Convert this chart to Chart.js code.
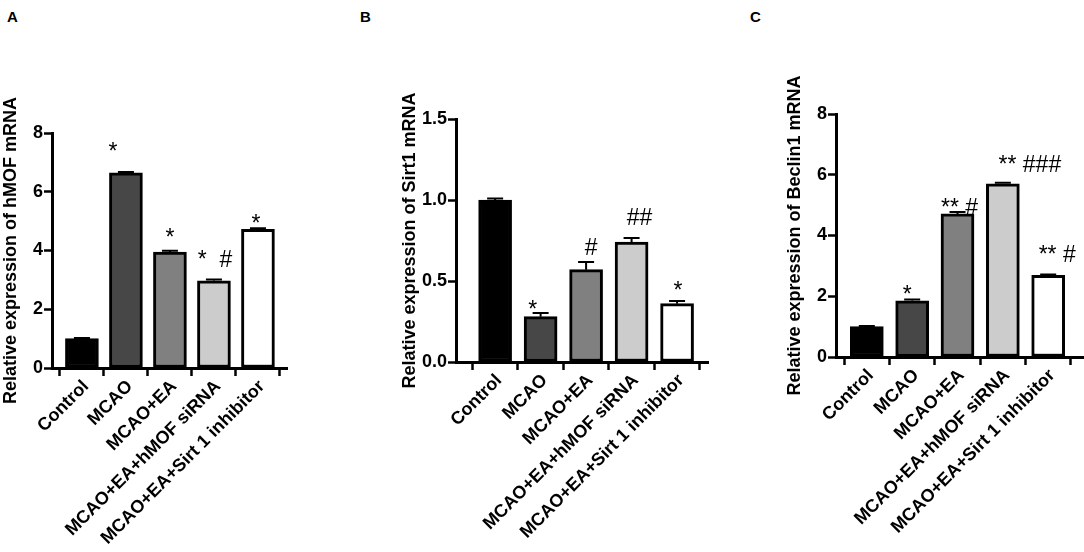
<!DOCTYPE html>
<html>
<head>
<meta charset="utf-8">
<script src="https://cdn.jsdelivr.net/npm/chart.js@4.4.1/dist/chart.umd.min.js"></script>
<style>
  body { margin: 0; background: #fff; }
  #wrap { position: relative; width: 1084px; height: 552px; overflow: hidden; font-family: "Liberation Sans", Arial, sans-serif; }
  .panel { position: absolute; top: 0; height: 552px; }
  .letter { position: absolute; top: 8px; font-weight: bold; font-size: 15px; color: #000; }
</style>
</head>
<body>
<div id="wrap">
  <div class="letter" style="left:7px">A</div>
  <div class="letter" style="left:360px">B</div>
  <div class="letter" style="left:750px">C</div>
  <div class="panel" style="left:0;width:360px"><canvas id="chartA" width="360" height="552"></canvas></div>
  <div class="panel" style="left:360px;width:360px"><canvas id="chartB" width="360" height="552"></canvas></div>
  <div class="panel" style="left:720px;width:364px"><canvas id="chartC" width="364" height="552"></canvas></div>
</div>
<script>
// groups on the x axis (same for all three panels)
const groups = ['Control', 'MCAO', 'MCAO+EA', 'MCAO+EA+hMOF siRNA', 'MCAO+EA+Sirt 1 inhibitor'];

// A - hMOF
const hmofValues = [1.0, 6.64, 3.95, 2.97, 4.72];
const hmofErrors = [0.02, 0.03, 0.04, 0.04, 0.04];
const hmofMarks = ['', '*', '*', '*  #', '*'];

// B - Sirt1
const sirt1Values = [1.0, 0.28, 0.57, 0.74, 0.36];
const sirt1Errors = [0.01, 0.022, 0.047, 0.026, 0.016];
const sirt1Marks = ['', '*', '#', '##', '*'];

// C - Beclin1
const beclinValues = [1.0, 1.85, 4.71, 5.70, 2.69];
const beclinErrors = [0.02, 0.04, 0.06, 0.04, 0.03];
const beclinMarks = ['', '*', '** #', '** ###', '** #'];

const fills = ['#000000', '#474747', '#808080', '#cccccc', '#ffffff'];
const FONT = '"Liberation Sans", Arial, sans-serif';

// small caps above each bar + the significance text
function barExtras(errors, marks, dx, gap) {
  return {
    id: 'barExtras',
    afterDatasetsDraw(chart) {
      const ctx = chart.ctx;
      const yS = chart.scales.y;
      const meta = chart.getDatasetMeta(0);
      const vals = chart.data.datasets[0].data;
      ctx.save();
      ctx.strokeStyle = '#000';
      ctx.lineWidth = 2;
      meta.data.forEach((bar, i) => {
        const top = yS.getPixelForValue(vals[i].y);
        const up = yS.getPixelForValue(vals[i].y + errors[i]);
        ctx.beginPath();
        ctx.moveTo(bar.x, top);
        ctx.lineTo(bar.x, up);
        ctx.moveTo(bar.x - 8, up);
        ctx.lineTo(bar.x + 8, up);
        ctx.stroke();
        if (marks[i]) {
          ctx.fillStyle = '#000';
          ctx.font = '23px ' + FONT;
          ctx.textAlign = 'center';
          ctx.textBaseline = 'alphabetic';
          ctx.fillText(marks[i], bar.x + dx[i], top - gap[i]);
        }
      });
      ctx.restore();
    }
  };
}

function makeChart(id, values, errors, marks, cfg) {
  const tickFont = { family: FONT, size: 18, weight: 'bold' };
  new Chart(document.getElementById(id), {
    type: 'bar',
    data: {
      datasets: [{
        data: values.map((v, i) => ({ x: i, y: v })),
        backgroundColor: fills,
        borderColor: '#000',
        borderWidth: 3,
        borderSkipped: false,
        barThickness: 33
      }]
    },
    options: {
      responsive: false,
      animation: false,
      layout: { padding: { left: cfg.padLeft, top: cfg.top, right: cfg.padRight, bottom: 0 } },
      plugins: { legend: { display: false }, tooltip: { enabled: false } },
      scales: {
        x: {
          type: 'linear',
          offset: false,
          min: cfg.xMin,
          max: cfg.xMax,
          afterBuildTicks: s => { s.ticks = groups.map((g, i) => ({ value: i })); },
          ticks: {
            callback: v => groups[v],
            minRotation: 45, maxRotation: 45, autoSkip: false,
            labelOffset: 4,
            font: { family: FONT, size: 18, weight: 'bold' }, color: '#000', padding: 0
          },
          grid: { drawOnChartArea: false, tickLength: 8, tickWidth: 2.5, color: '#000' },
          border: { width: 3, color: '#000' },
          afterFit: s => { s.height = cfg.xHeight; }
        },
        y: {
          min: 0,
          max: cfg.yMax,
          ticks: {
            stepSize: cfg.step,
            callback: v => cfg.decimals ? v.toFixed(cfg.decimals) : v,
            font: tickFont, color: '#000', padding: 1
          },
          grid: { drawOnChartArea: false, tickLength: 8, tickWidth: 2.5, color: '#000' },
          border: { width: 3, color: '#000' },
          title: { display: true, text: cfg.title, font: tickFont, color: '#000', padding: 0 },
          afterFit: s => { s.width = cfg.yWidth; }
        }
      }
    },
    plugins: [barExtras(errors, marks, cfg.dx, cfg.gap)]
  });
}

makeChart('chartA', hmofValues, hmofErrors, hmofMarks, {
  title: 'Relative expression of hMOF mRNA', yMax: 8, step: 2, decimals: 0,
  padLeft: 0, yWidth: 52, top: 133, padRight: 73, xHeight: 184,
  xMin: -0.68, xMax: 4.66,
  dx: [0, -13, 0, 1, -2], gap: [0, 14, 7, 14, -2]
});

makeChart('chartB', sirt1Values, sirt1Errors, sirt1Marks, {
  title: 'Relative expression of Sirt1 mRNA', yMax: 1.5, step: 0.5, decimals: 1,
  padLeft: 39, yWidth: 57, top: 119, padRight: 12, xHeight: 190,
  xMin: -0.86, xMax: 4.68,
  dx: [0, -8, 5, 8, 1], gap: [0, 0, 15, 17, 6]
});

makeChart('chartC', beclinValues, beclinErrors, beclinMarks, {
  title: 'Relative expression of Beclin1 mRNA', yMax: 8, step: 2, decimals: 0,
  padLeft: 64, yWidth: 52, top: 114, padRight: 0, xHeight: 195,
  xMin: -0.68, xMax: 4.79,
  dx: [0, -5, 2, 27, 9], gap: [0, -1, -1, 12, 13]
});
</script>
</body>
</html>
